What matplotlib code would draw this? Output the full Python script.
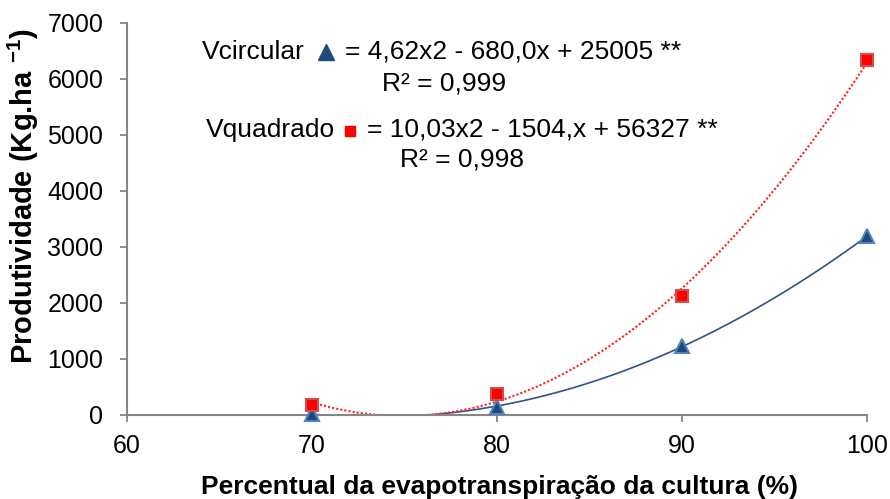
import numpy as np
import matplotlib
matplotlib.use("Agg")
import matplotlib.pyplot as plt

plt.rcParams['font.family'] = ['Liberation Sans', 'DejaVu Sans']
plt.rcParams['mathtext.fontset'] = 'custom'
plt.rcParams['mathtext.rm'] = 'Liberation Sans'
plt.rcParams['mathtext.bf'] = 'Liberation Sans:bold'

# Data
x_pct = [70, 80, 90, 100]
v_circular = [20, 150, 1230, 3190]
v_quadrado = [180, 378, 2125, 6335]

x_ticks = [60, 70, 80, 90, 100]
y_ticks = [0, 1000, 2000, 3000, 4000, 5000, 6000, 7000]

eq_circ = "= 4,62x2 - 680,0x + 25005 **"
r2_circ = "R² = 0,999"
eq_quad = "= 10,03x2 - 1504,x + 56327 **"
r2_quad = "R² = 0,998"

W, H = 890, 499
fig = plt.figure(figsize=(W / 100, H / 100), dpi=100)
ax = fig.add_axes([127 / W, 1 - 415 / H, (867 - 127) / W, (415 - 23) / H])

blue_line = '#2E5489'
blue_fill = '#1F497D'
blue_edge = '#4F81BD'
red_fill = '#FF0000'
red_edge = '#D05050'

xs = np.linspace(min(x_pct), max(x_pct), 300)
pc = np.polyfit(x_pct, v_circular, 2)
pq = np.polyfit(x_pct, v_quadrado, 2)
ax.plot(xs, np.polyval(pc, xs), color=blue_line, lw=1.2, zorder=2)
ax.plot(xs, np.polyval(pq, xs), color='#FF2020', lw=1.5, ls=(0, (1.0, 1.0)), zorder=2)

ax.plot(x_pct, v_circular, ls='none', marker='^', ms=10, mfc=blue_fill,
        mec=blue_edge, mew=1.5, zorder=3, clip_on=False)
ax.plot(x_pct, v_quadrado, ls='none', marker='s', ms=8.5, mfc=red_fill,
        mec=red_edge, mew=1.5, zorder=4, clip_on=False)

ax.set_xlim(60, 100)
ax.set_ylim(0, 7000)
ax.set_xticks(x_ticks)
ax.set_yticks(y_ticks)
ax.tick_params(labelsize=18, color='#868686', length=5, width=1.3)
ax.tick_params(axis='y', pad=12)
ax.tick_params(axis='x', pad=8.5)
for s in ['top', 'right']:
    ax.spines[s].set_visible(False)
for s in ['left', 'bottom']:
    ax.spines[s].set_color('#868686')
    ax.spines[s].set_linewidth(1.5)

ax.set_xlabel('Percentual da evapotranspiração da cultura (%)', fontsize=19,
              fontweight='bold', va='center')
ax.xaxis.set_label_coords((500 - 127) / 740, (415 - 487) / 392)
ax.set_ylabel(r'Produtividade (Kg.ha $^{\mathbf{-1}}$)', fontsize=21,
              fontweight='bold', va='center')
ax.yaxis.set_label_coords((23 - 127) / 740, (415 - 196) / 392)


def ft(x, y, s, **kw):
    fig.text(x / W, 1 - y / H, s, fontsize=19, va='center', **kw)


ft(305, 52, 'Vcircular', ha='right')
ft(345, 52, eq_circ, ha='left')
ft(444, 83, r2_circ, ha='center')
ft(335, 130, 'Vquadrado', ha='right')
ft(367, 130, eq_quad, ha='left')
ft(462, 160, r2_quad, ha='center')

fig.add_artist(plt.Line2D([326 / W], [1 - 52 / H], marker='^', ms=12,
                          mfc=blue_fill, mec=blue_fill, ls='none'))
fig.add_artist(plt.Line2D([350 / W], [1 - 131 / H], marker='s', ms=7,
                          mfc=red_fill, mec=red_fill, ls='none'))

fig.savefig('out.png', dpi=100)
